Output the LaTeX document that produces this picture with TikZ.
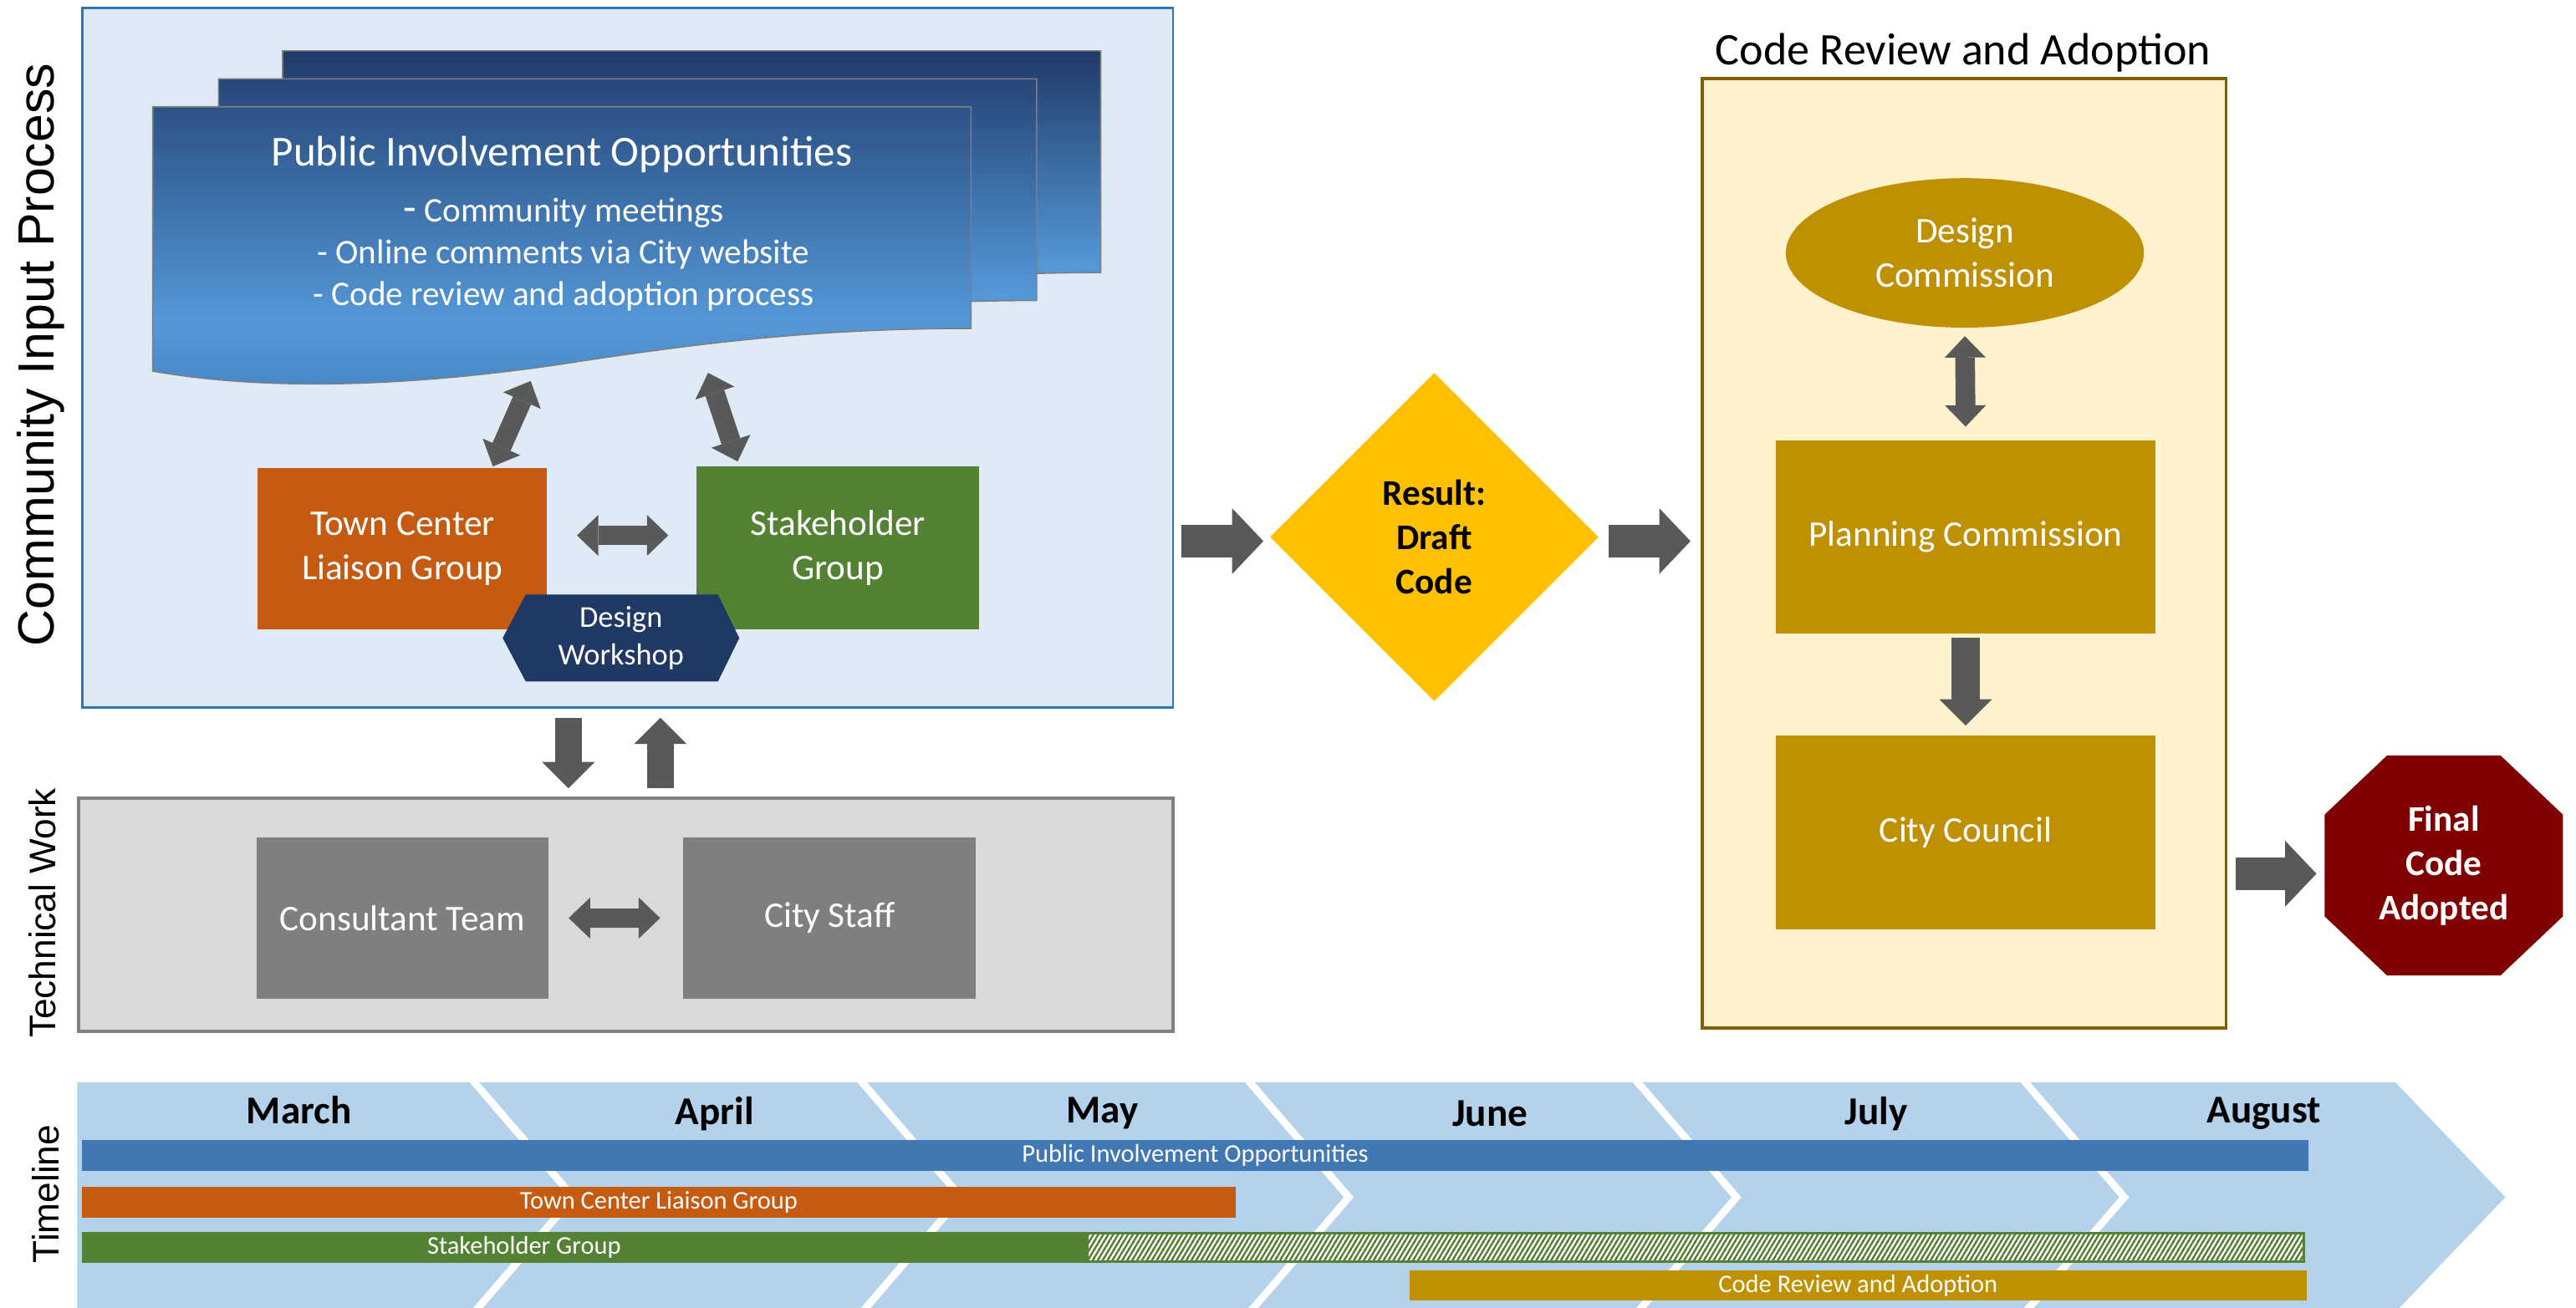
\documentclass[tikz,border=0pt]{standalone}
\usepackage{fontspec}
\setmainfont{Carlito}
\newfontfamily\lblfont{Liberation Sans}
\usetikzlibrary{arrows.meta,shapes.geometric,patterns,calc}

\definecolor{commfill}{HTML}{DEEBF7}
\definecolor{commborder}{HTML}{2E75B6}
\definecolor{techfill}{HTML}{D9D9D9}
\definecolor{techborder}{HTML}{808080}
\definecolor{boxgray}{HTML}{7F7F7F}
\definecolor{arrowgray}{HTML}{595959}
\definecolor{codefill}{HTML}{FFF2CC}
\definecolor{codeborder}{HTML}{7F6000}
\definecolor{gold}{HTML}{BF9000}
\definecolor{amber}{HTML}{FFC000}
\definecolor{darkred}{HTML}{800000}
\definecolor{rust}{HTML}{C55A11}
\definecolor{leaf}{HTML}{548235}
\definecolor{navy}{HTML}{1F3864}
\definecolor{barblue}{HTML}{4177B2}
\definecolor{chev}{HTML}{B4D2EC}
\definecolor{docline}{HTML}{7F7F7F}
\definecolor{docTopA}{RGB}{44,82,134}
\definecolor{docTopB}{RGB}{38,70,120}
\definecolor{docTopC}{RGB}{32,58,104}
\definecolor{docLight}{RGB}{84,152,216}
\definecolor{docBot}{RGB}{68,136,200}

\pgfdeclareverticalshading{docfront}{100bp}{color(0bp)=(docBot); color(25bp)=(docBot); color(37bp)=(docLight); color(75bp)=(docTopA); color(100bp)=(docTopA)}
\pgfdeclareverticalshading{docmid}{100bp}{color(0bp)=(docBot); color(25bp)=(docBot); color(37bp)=(docLight); color(75bp)=(docTopB); color(100bp)=(docTopB)}
\pgfdeclareverticalshading{docback}{100bp}{color(0bp)=(docBot); color(25bp)=(docBot); color(37bp)=(docLight); color(75bp)=(docTopC); color(100bp)=(docTopC)}

\pgfdeclarepatternformonly{steephatch}{\pgfqpoint{-1pt}{-1pt}}{\pgfqpoint{4pt}{6pt}}{\pgfqpoint{3pt}{5pt}}{%
  \pgfsetlinewidth{1.2pt}%
  \pgfpathmoveto{\pgfqpoint{-0.3pt}{-0.5pt}}%
  \pgfpathlineto{\pgfqpoint{3.3pt}{5.5pt}}%
  \pgfusepath{stroke}}

\begin{document}
\begin{tikzpicture}[x=1pt,y=-1pt,
  tipS/.tip={Triangle[width=25pt,length=13pt,line width=0pt]},
  tipM/.tip={Triangle[width=32pt,length=16pt,line width=0pt]},
  tipL/.tip={Triangle[width=40pt,length=19pt,line width=0pt]},
  dblS/.style={draw=arrowgray, line width=12pt, tipS-tipS},
  oneM/.style={draw=arrowgray, line width=16pt, -tipM},
  oneL/.style={draw=arrowgray, line width=20pt, -tipL},
  whitebox/.style={rectangle, inner sep=0pt, align=center, text=white, font=\fontsize{22}{27}\selectfont},
  boldtext/.style={align=center, inner sep=0pt, font=\bfseries\fontsize{22}{27}\selectfont},
  vlabel/.style={rotate=90, inner sep=0pt, text=black},
  bar/.style={rectangle, inner sep=0pt, text=white, font=\fontsize{15.5}{18}\selectfont},
  month/.style={inner sep=0pt, font=\bfseries\fontsize{24}{28}\selectfont},
]
\useasboundingbox (0,0) rectangle (1568,796);

% ---------------- Community input process
\node[draw=commborder, fill=commfill, line width=1.5pt, minimum width=664pt, minimum height=426pt, inner sep=0pt] (comm) at (382,218) {};
\node[vlabel, font=\lblfont\fontsize{31}{36}\selectfont] (lcomm) at (25,216) {Community Input Process};

\foreach \dx/\dy/\sh in {79/-34/docback, 40/-17/docmid, 0/0/docfront}{
  \begin{scope}[shift={(\dx,\dy)}]
    \shadedraw[shading=\sh, draw=docline, line width=0.8pt]
      (93,65) -- (591,65) -- (591,200) .. controls (500,200) and (430,208) .. (340,222)
      .. controls (230,238) and (150,236) .. (93,226) -- cycle;
  \end{scope}
}
\node[text=white, inner sep=0pt, font=\fontsize{26}{30}\selectfont] (pio) at (342,94) {Public Involvement Opportunities};
\node[text=white, inner sep=0pt, align=center, font=\fontsize{21}{25.5}\selectfont] (piol) at (343,155)
  {{\fontsize{26}{25.5}\selectfont -} Community meetings\\- Online comments via City website\\- Code review and adoption process};

\node[whitebox, fill=rust, minimum width=176pt, minimum height=98pt] (tc) at (245,334) {Town Center\\Liaison Group};
\node[whitebox, fill=leaf, minimum width=172pt, minimum height=99pt] (sh) at (510,333.5) {Stakeholder\\Group};

\fill[navy] (306,388.5) -- (320,362) -- (437,362) -- (450,388.5) -- (437,415) -- (320,415) -- cycle;
\node[align=center, text=white, inner sep=0pt, font=\fontsize{18.5}{23}\selectfont] (dw) at (378,388.5) {Design\\Workshop};

\coordinate (a1s) at (300,284); \coordinate (a1e) at (323,232);
\coordinate (a2s) at (431,227); \coordinate (a2e) at (449,281);
\draw[dblS] (a1s) -- (a1e);
\draw[dblS] (a2s) -- (a2e);
\draw[dblS] ($(tc.east)+(18,-8)$) -- ($(sh.west)+(-17,-7.5)$);

% ---------------- Technical work
\coordinate (dn1s) at (346,437); \coordinate (dn1e) at (346,480);
\coordinate (up1s) at (402,480); \coordinate (up1e) at (402,437);
\draw[oneM] (dn1s) -- (dn1e);
\draw[oneM] (up1s) -- (up1e);

\node[draw=techborder, fill=techfill, line width=2pt, minimum width=666pt, minimum height=142pt, inner sep=0pt] (tech) at (381,557) {};
\node[vlabel, font=\lblfont\fontsize{22.5}{26}\selectfont] (ltech) at (26,556) {Technical Work};
\node[whitebox, fill=boxgray, minimum width=178pt, minimum height=98pt] (ct) at (245,559) {Consultant Team};
\node[whitebox, fill=boxgray, minimum width=178pt, minimum height=98pt] (cs) at (505,559) {City Staff};
\draw[dblS] ($(ct.east)+(12,0)$) -- ($(cs.west)+(-14,0)$);

% ---------------- Result
\node[diamond, fill=amber, minimum width=200pt, minimum height=200pt, inner sep=0pt, align=center, font=\bfseries\fontsize{22}{27}\selectfont] (res) at (873,327) {Result:\\Draft\\Code};
\coordinate (b1s) at (719,329.5); \coordinate (b1e) at (769,329.5);
\coordinate (b2s) at (979,329.5); \coordinate (b2e) at (1029,329.5);
\draw[oneL] (b1s) -- (b1e);
\draw[oneL] (b2s) -- (b2e);

% ---------------- Code review and adoption
\node[draw=codeborder, fill=codefill, line width=2pt, minimum width=319pt, minimum height=578pt, inner sep=0pt] (code) at (1195.5,337) {};
\node[inner sep=0pt, font=\fontsize{27.5}{31}\selectfont] (crt) at (1195,32) {Code Review and Adoption};
\node[ellipse, fill=gold, minimum width=218pt, minimum height=91pt, inner sep=0pt, align=center, text=white, font=\fontsize{22}{27}\selectfont] (dc) at (1196,154) {Design\\Commission};
\node[whitebox, fill=gold, minimum width=231pt, minimum height=118pt] (pc) at (1196.5,327) {Planning Commission};
\node[whitebox, fill=gold, minimum width=231pt, minimum height=118pt] (cc) at (1196.5,507) {City Council};
\draw[dblS] ($(dc.south)+(0,5)$) -- ($(pc.north)+(0,-8)$);
\draw[oneM, line width=17pt] ($(pc.south)+(0,2)$) -- ($(cc.north)+(0,-6)$);

% ---------------- Final
\fill[darkred] (1453,460) -- (1522,460) -- (1560,496) -- (1560,558) -- (1522,594) -- (1453,594) -- (1415,558) -- (1415,496) -- cycle;
\node[boldtext, text=white] (fin) at (1487.5,527) {Final\\Code\\Adopted};
\coordinate (b3s) at (1361,532); \coordinate (b3e) at (1410,532);
\draw[oneL] (b3s) -- (b3e);

% ---------------- Timeline
\fill[chev] (47,659) -- (1458,659) -- (1525,729) -- (1458,799) -- (47,799) -- cycle;
\foreach \b in {281,517,753,989,1225}{
  \draw[white, line width=4.5pt, line join=miter] (\b,650) -- ({\b+68},729) -- (\b,808);
}
\node[vlabel, font=\lblfont\fontsize{22.5}{26}\selectfont] (ltime) at (28,727) {Timeline};

\node[month] (mmar) at (182,676) {March};
\node[month] (mapr) at (435,678) {April};
\node[month] (mmay) at (671,678) {May};
\node[month] (mjun) at (907,678) {June};
\node[month] (mjul) at (1142,678) {July};
\node[month] (maug) at (1378,678) {August};

\node[bar, fill=barblue, minimum width=1355pt, minimum height=19pt] (bpio) at (727.5,703.5) {Public Involvement Opportunities};
\node[bar, fill=rust, minimum width=702pt, minimum height=18.5pt] (btc) at (401,732) {Town Center Liaison Group};
\node[bar, fill=leaf, minimum width=611pt, minimum height=19pt] (bsh) at (355.5,759.5) {};
\node[bar, draw=leaf, line width=1.5pt, preaction={fill=white}, pattern=steephatch, pattern color=leaf, minimum width=740.5pt, minimum height=17.5pt] (bshx) at (1032,759.5) {};
\node[bar] (bsht) at (319,759.5) {Stakeholder Group};
\node[bar, fill=gold, minimum width=546pt, minimum height=18.6pt] (bcr) at (1131,782.7) {Code Review and Adoption};

\end{tikzpicture}
\end{document}
